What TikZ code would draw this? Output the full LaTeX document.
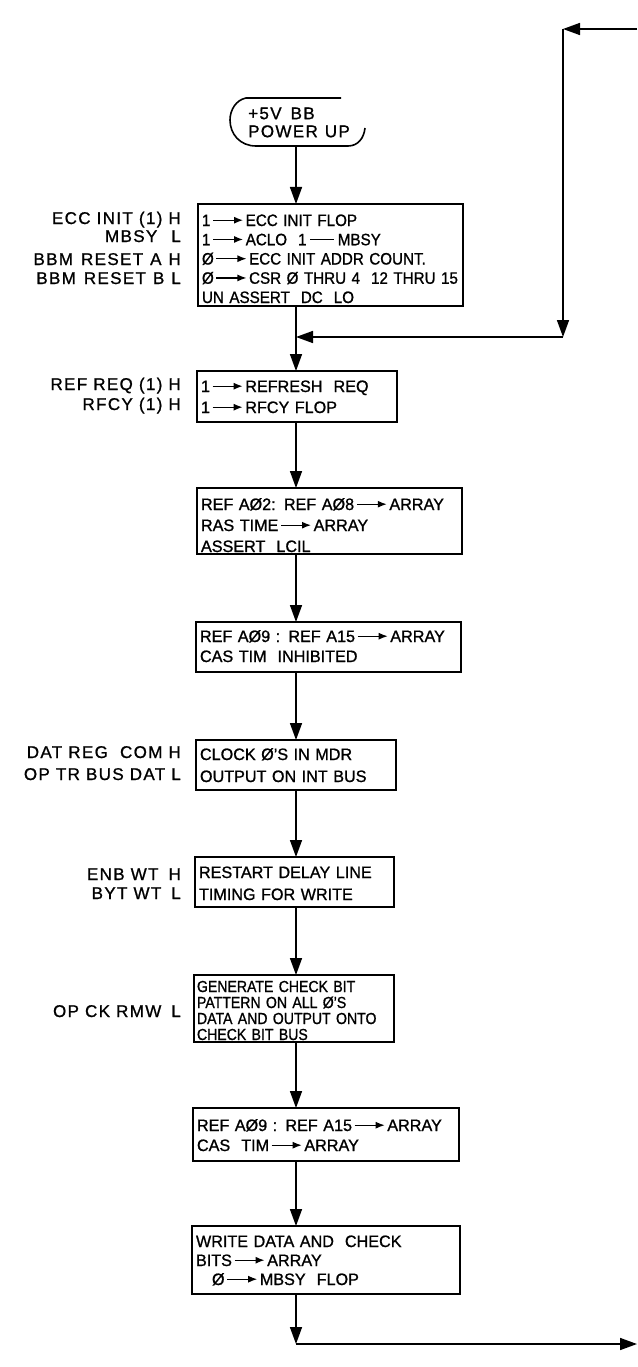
\documentclass[tikz,border=0pt]{standalone}
\usepackage{fontspec}
\setmainfont{Liberation Sans}
\newfontfamily\boxfam[FakeStretch=0.92,FakeBold=1]{Liberation Sans}
\newfontfamily\widfam[FakeStretch=0.98,FakeBold=1]{Liberation Sans}
\newfontfamily\narfam[FakeStretch=0.88,FakeBold=1]{Liberation Sans}
\newfontfamily\labfam[LetterSpace=8,FakeBold=1]{Liberation Sans}
\usetikzlibrary{arrows.meta}
\newcommand\rar{\hspace{2pt}\tikz[baseline=-5.8pt]\draw[line width=1.3pt,-{Latex[length=9pt,width=7pt]}](0pt,0pt)--(30pt,0pt);\hspace{2pt}}
\newcommand\rline{\hspace{3pt}\tikz[baseline=-5.8pt]\draw[line width=1.3pt](0pt,0pt)--(24pt,0pt);\hspace{3pt}}
\tikzset{
  pbox/.style={draw, line width=1.6pt, anchor=north west, inner xsep=4pt, inner ysep=0pt, outer sep=0pt, align=left},
  bf/.style={font={\widfam\fontsize{16.5}{#1}\selectfont}},
  lab/.style={anchor=base east, inner sep=0pt, font={\labfam\fontsize{17}{19}\selectfont}},
  arr/.style={line width=1.6pt, -{Triangle[length=17pt,width=12pt]}},
  ln/.style={line width=1.6pt},
}
\begin{document}
\begin{tikzpicture}[x=1pt,y=-1pt]
\useasboundingbox (0,0) rectangle (637,1367);
\fill[white] (0,0) rectangle (637,1367);

% terminal
\node[anchor=north west, inner sep=0pt, align=left, text width=115pt, text height=21pt, text depth=27pt,
      font={\labfam\fontsize{17}{18}\selectfont}] (term) at (248,98) {+5V\hspace{9pt}BB\\POWER\hspace{7pt}UP};
\draw[ln] (341,98) -- (246,98) .. controls (236,100) and (230,110) .. (230,120)
  .. controls (230,134) and (240,146) .. (256,146) -- (348,146)
  .. controls (358,146) and (364,138) .. (365,128);

% boxes
\node[pbox, font={\boxfam\fontsize{16.5}{19.25}\selectfont}, text width=257pt, text height=22pt, text depth=80pt] (b1) at (198,204)
  {1\rar ECC INIT FLOP\\1\rar ACLO\ \ 1\rline MBSY\\Ø\rar ECC INIT ADDR COUNT.\\\mbox{Ø\rar CSR Ø THRU 4\ \ 12 THRU 15}\\UN ASSERT\ \ DC\ \ LO};
\node[pbox, bf=21, text width=192pt, text height=21pt, text depth=30pt] (b2) at (197,371)
  {1\rar REFRESH\ \ REQ\\1\rar RFCY FLOP};
\node[pbox, bf=21, text width=257pt, text height=22pt, text depth=44pt] (b3) at (197,488)
  {\mbox{REF AØ2: REF AØ8\rar ARRAY}\\RAS TIME\rar ARRAY\\ASSERT\ \ LCIL};
\node[pbox, bf=20, text width=257pt, text height=20pt, text depth=30pt] (b4) at (196,622)
  {\mbox{REF AØ9 : REF A15\rar ARRAY}\\CAS\ TIM\ \ INHIBITED};
\node[pbox, bf=22, text width=192pt, text height=20pt, text depth=30pt] (b5) at (196,740)
  {CLOCK Ø’S IN MDR\\OUTPUT ON INT BUS};
\node[pbox, bf=22, text width=191pt, text height=21pt, text depth=29pt] (b6) at (195,857)
  {RESTART DELAY LINE\\TIMING FOR WRITE};
\node[pbox, font={\narfam\fontsize{16}{16}\selectfont}, inner xsep=3pt, text width=194pt, text height=17pt, text depth=50pt] (b7) at (194,975)
  {GENERATE CHECK BIT\\PATTERN ON ALL Ø’S\\\mbox{DATA AND OUTPUT ONTO}\\CHECK BIT BUS};
\node[pbox, bf=20, text width=258pt, text height=23pt, text depth=30pt] (b8) at (193,1108)
  {\mbox{REF AØ9 : REF A15\rar ARRAY}\\CAS\ \ TIM\rar ARRAY};
\node[pbox, bf=19, text width=260pt, text height=21pt, text depth=47pt] (b9) at (192,1226)
  {WRITE DATA AND\ \ CHECK\\BITS\rar ARRAY\\\hspace*{16pt}Ø\rar MBSY\ \ FLOP};

% side labels
\node[lab] (l1a) at (181,224) {ECC INIT (1) H};
\node[lab] (l1b) at (181,242) {MBSY\hspace{14pt}L};
\node[lab] (l1c) at (181,265) {BBM\hspace{8pt}RESET\hspace{7pt}A\hspace{7pt}H};
\node[lab] (l1d) at (181,284) {BBM\hspace{8pt}RESET\hspace{7pt}B\hspace{7pt}L};
\node[lab] (l2a) at (181,390) {REF REQ (1) H};
\node[lab] (l2b) at (181,410) {RFCY (1) H};
\node[lab] (l5a) at (181,758) {DAT REG\ \ COM H};
\node[lab] (l5b) at (181,780) {OP TR BUS DAT L};
\node[lab] (l6a) at (181,880) {ENB WT\hspace{10pt}H};
\node[lab] (l6b) at (181,899) {BYT WT\hspace{10pt}L};
\node[lab] (l7a) at (181,1017) {OP CK RMW\hspace{10pt}L};

% connectors
\coordinate (tout) at (296,146);
\draw[arr] (tout) -- (b1.north -| tout);
\coordinate (ltop) at (637,29);
\coordinate (lcorner) at (563,29);
\coordinate (lbot) at (563,337);
\coordinate (merge) at (296,337);
\draw[arr] (ltop) -- (lcorner);
\draw[arr] (lcorner) -- (lbot);
\draw[arr] (lbot) -- (merge);
\draw[ln] (b1.south -| merge) -- (merge);
\draw[arr] (merge) -- (b2.north -| merge);
\foreach \a/\b in {b2/b3,b3/b4,b4/b5,b5/b6,b6/b7,b7/b8,b8/b9}
  \draw[arr] (\a.south -| merge) -- (\b.north -| merge);
\coordinate (bend) at (296,1344);
\coordinate (bright) at (637,1344);
\draw[arr] (b9.south -| bend) -- (bend);
\draw[arr] (bend) -- (bright);
\end{tikzpicture}
\end{document}
